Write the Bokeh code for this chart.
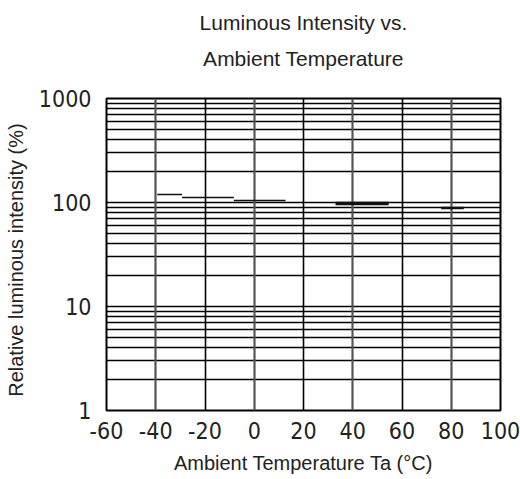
from bokeh.plotting import figure
from bokeh.models import (FixedTicker, Grid, Range1d, ColumnDataSource, LogTickFormatter,
                          PrintfTickFormatter, Title)
from bokeh.embed import file_html
from bokeh.resources import INLINE

# ---- data ----
title_lines = ["Luminous Intensity vs.", "Ambient Temperature"]
x_label = "Ambient Temperature Ta (°C)"
y_label = "Relative luminous intensity   (%)"
x_ticks = [-60, -40, -20, 0, 20, 40, 60, 80, 100]
y_ticks = [1, 10, 100, 1000]
y_minor = [m * 10 ** e for e in range(0, 3) for m in range(2, 10)]
seg_start = [-39.4, -29.3, -8.3, 33.0, 75.9]
seg_end = [-29.3, -8.3, 12.7, 54.6, 85.1]
seg_value = [119.5, 111.8, 104.6, 97.8, 88.6]

# ---- styles ----
seg_widths = [1.5, 1.5, 1.5, 3.5, 2.5]
FONT = "Liberation Sans"
TICK_FONT = "Liberation Sans Narrow, DejaVu Sans Condensed, Liberation Sans"
INK = "#222222"

p = figure(width=520, height=479, y_axis_type="log",
           x_range=Range1d(-60, 100), y_range=Range1d(1, 1000),
           output_backend="svg", toolbar_location=None,
           min_border_left=106, min_border_right=20,
           min_border_top=98, min_border_bottom=69)
p.background_fill_color = "white"
p.border_fill_color = "white"
p.outline_line_color = "black"
p.outline_line_width = 2

# titles (first added sits nearest the frame); the trailing empty line lifts
# the second title line inside its panel
p.add_layout(Title(text=title_lines[1] + "\n", text_font=FONT, text_font_size="21px",
                   text_font_style="normal", text_color=INK, align="center",
                   standoff=12, offset=4), "above")
p.add_layout(Title(text=title_lines[0], text_font=FONT, text_font_size="21px",
                   text_font_style="normal", text_color=INK, align="center",
                   standoff=9, offset=4), "above")

# axes
p.xaxis.ticker = FixedTicker(ticks=x_ticks)
p.xaxis.formatter = PrintfTickFormatter(format="%d")
p.yaxis.ticker = FixedTicker(ticks=y_ticks, minor_ticks=y_minor)
p.yaxis.formatter = LogTickFormatter(min_exponent=4)
for ax in (p.xaxis, p.yaxis):
    ax.axis_line_color = None
    ax.major_tick_line_color = None
    ax.minor_tick_line_color = None
    ax.major_label_text_font = TICK_FONT
    ax.major_label_text_font_size = "23px"
    ax.major_label_text_color = INK
    ax.axis_label_text_font = FONT
    ax.axis_label_text_font_style = "normal"
    ax.axis_label_text_color = INK
p.xaxis.major_label_standoff = 5
p.yaxis.major_label_standoff = 9
p.xaxis.axis_label = x_label
p.xaxis.axis_label_text_font_size = "20px"
p.xaxis.axis_label_standoff = 10
p.yaxis.axis_label = y_label
p.yaxis.axis_label_text_font_size = "20px"
p.yaxis.axis_label_standoff = 9

# grids
p.ygrid.grid_line_color = "black"
p.ygrid.grid_line_width = 1.6
p.ygrid.minor_grid_line_color = "black"
p.ygrid.minor_grid_line_width = 1.4
p.xgrid.ticker = FixedTicker(ticks=[-20, 20, 60])
p.xgrid.grid_line_color = "black"
p.xgrid.grid_line_width = 1.6
g2 = Grid(dimension=0, ticker=FixedTicker(ticks=[-40, 0, 40, 80]),
          grid_line_color="#555555", grid_line_width=2.2)
p.add_layout(g2)

# data segments
src = ColumnDataSource(dict(x0=seg_start, x1=seg_end, y=seg_value, w=seg_widths))
p.segment(x0="x0", y0="y", x1="x1", y1="y", line_width="w",
          line_color="#111111", source=src)

open("out.html", "w").write(file_html(p, INLINE))
